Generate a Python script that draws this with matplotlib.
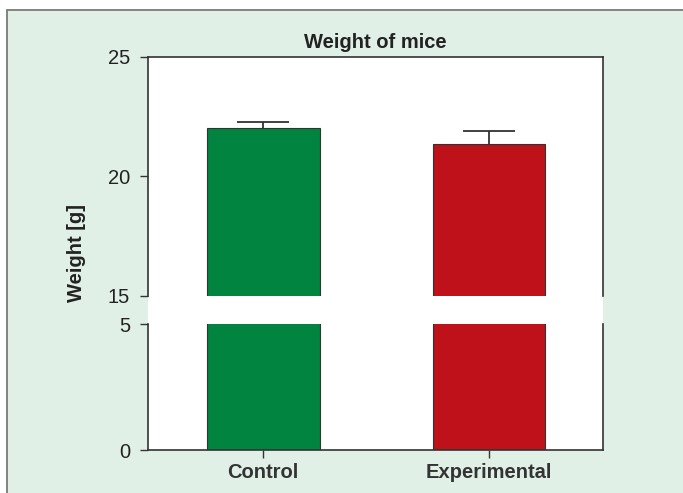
import matplotlib
matplotlib.use('agg')
import matplotlib.pyplot as plt
from matplotlib.patches import Rectangle

groups = ['Control', 'Experimental']
weights = [22.02, 21.36]
errors = [0.25, 0.56]
colors = ['#00843F', '#BE111A']
upper_ticks = [15, 20, 25]
lower_ticks = [0, 5]

plt.rcParams['font.family'] = ['Liberation Sans', 'DejaVu Sans']
txt = '#222222'

fig = plt.figure(figsize=(6.83, 4.93), dpi=100)
fig.patch.set_facecolor('white')

# green panel with grey border on left/top
fig.patches.append(Rectangle((7/683, -0.01), 1.0, 1 - 10/493 + 0.01, transform=fig.transFigure,
                             facecolor='#E1F0E6', edgecolor='#7a7a7a', linewidth=1.3, zorder=-2))
# white plot background across both axes and the gap
left, width = 148/683, 455/683
fig.patches.append(Rectangle((left, 1 - 450/493), width, (450 - 57)/493, transform=fig.transFigure,
                             facecolor='white', edgecolor='none', zorder=-1))

ax_top = fig.add_axes([left, 1 - 296/493, width, (296 - 57)/493])
ax_bot = fig.add_axes([left, 1 - 450/493, width, (450 - 324)/493])

x = list(range(len(groups)))
for ax in (ax_top, ax_bot):
    ax.set_zorder(2)
    ax.set_facecolor('none')
    ax.bar(x, weights, width=0.5, color=colors, edgecolor='#333333', linewidth=0.8, zorder=2)
    ax.set_xlim(-0.51, 1.505)
    ax.tick_params(axis='y', direction='out', length=6, width=1, labelsize=14.5,
                   pad=7, colors='#333333', labelcolor=txt)
    for s in ax.spines.values():
        s.set_color('#333333')
        s.set_linewidth(1.2)

# upper-only error bars, no lower cap
tops = [w + e for w, e in zip(weights, errors)]
ax_top.vlines(x, weights, tops, color='#333333', linewidth=1.3, zorder=1)
ax_top.hlines(tops, [i - 0.115 for i in x], [i + 0.115 for i in x], color='#333333',
              linewidth=1.3, zorder=1)

ax_top.set_ylim(15, 25)
ax_top.set_yticks(upper_ticks)
ax_top.spines['bottom'].set_visible(False)
ax_top.set_xticks([])

ax_bot.set_ylim(0, 5)
ax_bot.set_yticks(lower_ticks)
ax_bot.spines['top'].set_visible(False)
ax_bot.set_xticks(x)
ax_bot.set_xticklabels(groups, fontsize=14.5, fontweight='bold', color=txt)
ax_bot.tick_params(axis='x', direction='out', length=6, width=1, pad=3.5, colors='#333333')

ax_top.set_title('Weight of mice', fontsize=14.5, fontweight='bold', pad=6.5, color=txt)
fig.text(76/683, 1 - 253/493, 'Weight [g]', rotation=90, ha='center', va='center',
         fontsize=14.5, fontweight='bold', color=txt)

fig.savefig('out.png', dpi=100)
